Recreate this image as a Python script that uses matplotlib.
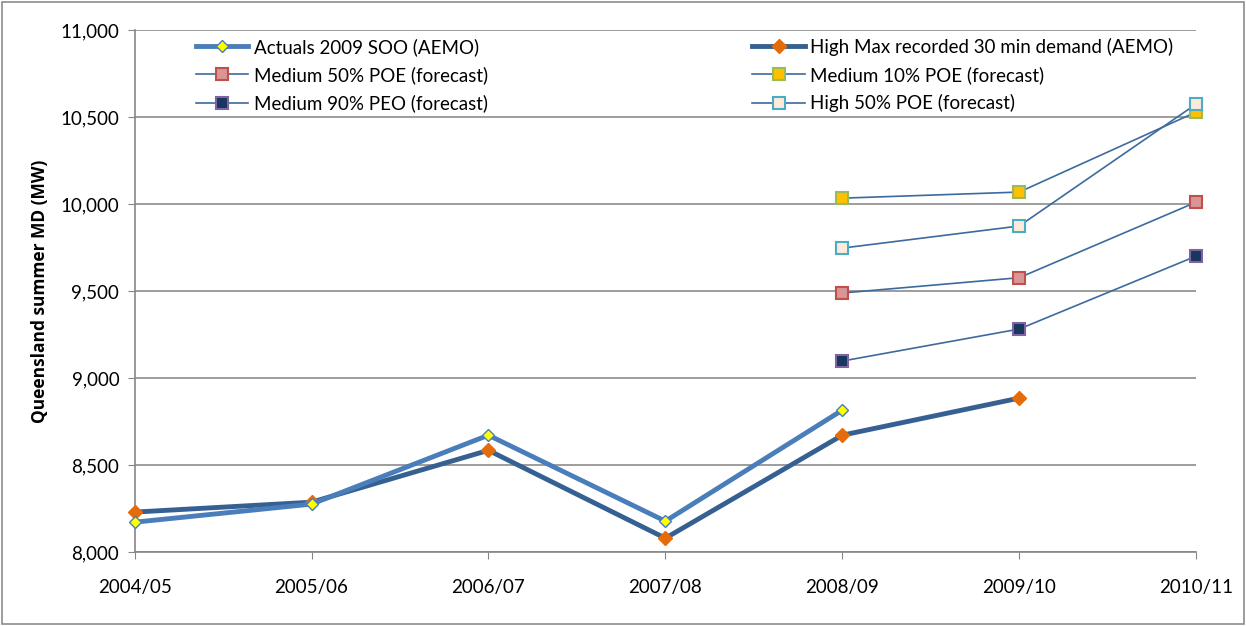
import matplotlib.pyplot as plt
from matplotlib.ticker import FuncFormatter

plt.rcParams['font.family'] = ['Lato', 'DejaVu Sans']

years = ['2004/05', '2005/06', '2006/07', '2007/08', '2008/09', '2009/10', '2010/11']

actuals = [8172, 8276, 8672, 8178, 8816]
high_max = [8230, 8287, 8585, 8080, 8672, 8885]
med_50 = [9489, 9577, 10011]
med_10 = [10034, 10069, 10529]
med_90 = [9098, 9282, 9701]
high_50 = [9747, 9874, 10575]

fig = plt.figure(figsize=(12.46, 6.26), dpi=100)
ax = fig.add_axes([0.108, 0.118, 0.852, 0.834])

x = list(range(len(years)))
fx = x[4:7]

# actuals and recorded max
h1, = ax.plot(x[:5], actuals, color='#4A7EBB', lw=3.5, marker='D', ms=6,
              mfc='#FFFF00', mec='#4A7EBB', mew=1, label='Actuals 2009 SOO (AEMO)', zorder=4)
h2, = ax.plot(x[:6], high_max, color='#376092', lw=3.5, marker='D', ms=7,
              mfc='#E46C0A', mec='#E46C0A', label='High Max recorded 30 min demand (AEMO)', zorder=3)

# forecasts
line_c = '#3D6A9E'
h3, = ax.plot(fx, med_50, color=line_c, lw=1.2, marker='s', ms=9,
              mfc='#D99694', mec='#C0504D', mew=1.5, label='Medium 50% POE (forecast)')
h4, = ax.plot(fx, med_10, color=line_c, lw=1.2, marker='s', ms=9,
              mfc='#FFC000', mec='#9BBB59', mew=1.5, label='Medium 10% POE (forecast)')
h5, = ax.plot(fx, med_90, color=line_c, lw=1.2, marker='s', ms=9,
              mfc='#17375E', mec='#8064A2', mew=1.5, label='Medium 90% PEO (forecast)')
h6, = ax.plot(fx, high_50, color=line_c, lw=1.2, marker='s', ms=9,
              mfc='#FDEADA', mec='#4BACC6', mew=1.5, label='High 50% POE (forecast)')

for h in (h1, h2, h3, h4, h5, h6):
    h.set_clip_on(False)

ax.set_xlim(0, 6)
ax.set_ylim(8000, 11000)
ax.set_yticks(range(8000, 11001, 500))
ax.yaxis.set_major_formatter(FuncFormatter(lambda v, p: '{:,.0f}'.format(v)))
ax.set_xticks(x)
ax.set_xticklabels(years)
ax.grid(axis='y', color='#8C8C8C', lw=1.2)
ax.set_axisbelow(True)

for s in ('top', 'right'):
    ax.spines[s].set_visible(False)
for s in ('left', 'bottom'):
    ax.spines[s].set_color('#868686')
    ax.spines[s].set_linewidth(1.2)
ax.tick_params(axis='y', length=5, color='#868686', labelsize=13.5, pad=6)
ax.tick_params(axis='x', length=5, color='#868686', labelsize=13.5, pad=14)

ax.set_ylabel('Queensland summer MD (MW)', fontsize=12.5, fontweight='bold',
              family=['Open Sans', 'DejaVu Sans'], labelpad=8)

ax.legend(handles=[h1, h3, h5, h2, h4, h6], ncol=2, frameon=False, fontsize=13.5,
          loc='upper left', bbox_to_anchor=(0.047, 1.007), handlelength=2.8,
          handletextpad=0.3, columnspacing=14.1, labelspacing=0.55, borderaxespad=0.2)

# outer frame
fig.patches.append(plt.Rectangle((0.002, 0.003), 0.996, 0.994, transform=fig.transFigure,
                                 fill=False, ec='#8C8C8C', lw=1.2))

fig.savefig('out.png', dpi=100)
